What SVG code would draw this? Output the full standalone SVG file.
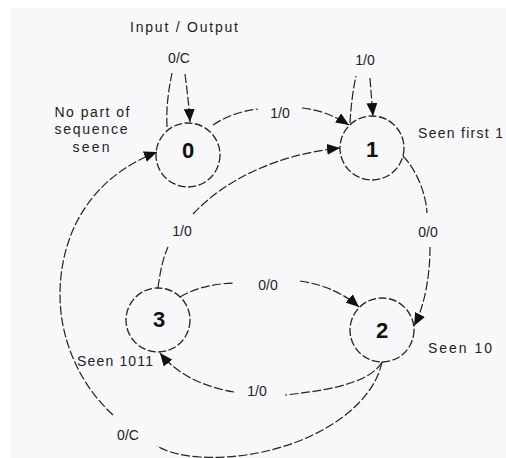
<svg xmlns="http://www.w3.org/2000/svg" width="506" height="458" viewBox="0 0 506 458">
<style>
.node circle{fill:none;stroke:#222;stroke-width:1.3;stroke-dasharray:8 2.5}
.num{font-family:"Liberation Sans",Arial,sans-serif;font-size:22px;font-weight:bold;fill:#111;text-anchor:middle}
.lbl{font-family:"Liberation Sans",Arial,sans-serif;font-size:14px;fill:#222}
.mid{text-anchor:middle}
#connectors path{fill:none;stroke:#222;stroke-width:1.2;stroke-dasharray:9 2.5}
.arr{marker-end:url(#ah)}
</style>
<defs>
<marker id="ah" markerUnits="userSpaceOnUse" markerWidth="13" markerHeight="11" refX="13" refY="5.5" orient="auto">
<path d="M0,0 L13,5.5 L0,11 z" fill="#111"/>
</marker>
</defs>
<rect x="0" y="0" width="506" height="458" fill="#ffffff"/>
<rect x="10" y="8" width="496" height="450" fill="#f8f8fa"/>

<g id="connectors">
<path d="M167,127 C166,105 169,88 172,73"/>
<path class="arr" d="M185,74 C187,90 189,105 190,122"/>
<path d="M350,123 C351,105 353,90 356,76"/>
<path class="arr" d="M370,78 C371,92 372,104 373,116"/>
<path d="M213,125 C225,117 240,111 258,109"/>
<path class="arr" d="M302,108 C320,110 335,116 349,125"/>
<path d="M403,156 C418,172 426,195 427,213"/>
<path class="arr" d="M430,247 C430,275 425,305 414,326"/>
<path d="M180,297 C195,288 212,284 234,283"/>
<path class="arr" d="M300,281 C325,285 343,293 359,307"/>
<path d="M382,362 C373,378 345,389 285,395"/>
<path class="arr" d="M234,392 C210,388 180,378 160,353"/>
<path d="M158,288 C160,272 163,258 168,247"/>
<path class="arr" d="M193,214 C225,180 275,155 340,148"/>
<path d="M382,362 C370,420 280,462 200,457 C180,456 165,451 157,446"/>
<path class="arr" d="M113,415 C80,385 60,340 60,295 C60,240 85,180 157,152"/>
</g>

<g id="node0" class="node">
<circle cx="188" cy="155" r="32"/>
<text class="num" x="188" y="158">0</text>
</g>
<g id="node1" class="node">
<circle cx="372" cy="148" r="32"/>
<text class="num" x="372" y="157">1</text>
</g>
<g id="node2" class="node">
<circle cx="382" cy="330" r="32"/>
<text class="num" x="382" y="338">2</text>
</g>
<g id="node3" class="node">
<circle cx="158" cy="320" r="32"/>
<text class="num" x="159" y="327">3</text>
</g>

<g id="labels">
<text class="lbl mid" x="184" y="32" textLength="108" lengthAdjust="spacing">Input / Output</text>
<text class="lbl mid" x="179" y="63">0/C</text>
<text class="lbl mid" x="365" y="65">1/0</text>
<text class="lbl mid" x="280" y="118">1/0</text>
<text class="lbl mid" x="92" y="117" textLength="75" lengthAdjust="spacing">No part of</text>
<text class="lbl mid" x="91" y="134" textLength="73" lengthAdjust="spacing">sequence</text>
<text class="lbl mid" x="91" y="152" textLength="37" lengthAdjust="spacing">seen</text>
<text class="lbl" x="418" y="138" textLength="85" lengthAdjust="spacing">Seen first 1</text>
<text class="lbl mid" x="182" y="236">1/0</text>
<text class="lbl mid" x="428" y="237">0/0</text>
<text class="lbl mid" x="268" y="290">0/0</text>
<text class="lbl" x="77" y="366" textLength="76" lengthAdjust="spacing">Seen 1011</text>
<text class="lbl" x="428" y="353" textLength="64" lengthAdjust="spacing">Seen 10</text>
<text class="lbl mid" x="257" y="396">1/0</text>
<text class="lbl mid" x="128" y="440">0/C</text>
</g>
</svg>
